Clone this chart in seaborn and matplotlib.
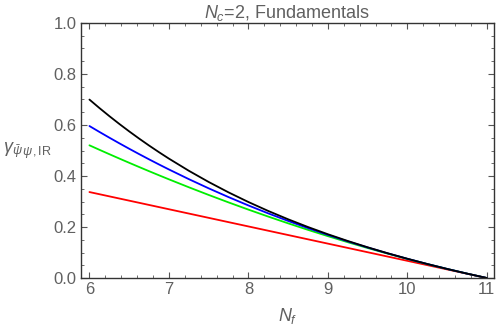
import numpy as np
import pandas as pd
import seaborn as sns
import matplotlib
matplotlib.use("Agg")
import matplotlib.pyplot as plt
from matplotlib.ticker import MultipleLocator

# N_f values
nf = [6.0, 6.125, 6.25, 6.375, 6.5, 6.625, 6.75, 6.875, 7.0, 7.25, 7.5, 7.75,
      8.0, 8.25, 8.5, 8.75, 9.0, 9.25, 9.5, 9.75, 10.0, 10.25, 10.5, 10.75, 11.0]

# series values
red = [0.33708, 0.32865, 0.32023, 0.31180, 0.30337, 0.29495, 0.28652, 0.27809,
       0.26966, 0.25281, 0.23596, 0.21910,
       0.20225, 0.18539, 0.16854, 0.15169, 0.13483, 0.11798, 0.10112, 0.08427,
       0.06742, 0.05056, 0.03371, 0.01685, 0.0]
green = [0.52035, 0.50287, 0.48563, 0.46861, 0.45182, 0.43527, 0.41893, 0.40283,
         0.38695, 0.35590, 0.32576, 0.29653,
         0.26823, 0.24083, 0.21436, 0.18880, 0.16415, 0.14043, 0.11761, 0.09572,
         0.07475, 0.05468, 0.03554, 0.01731, 0.0]
blue = [0.59593, 0.57292, 0.55043, 0.52843, 0.50692, 0.48590, 0.46534, 0.44527,
        0.42565, 0.38778, 0.35168, 0.31729,
        0.28455, 0.25340, 0.22381, 0.19569, 0.16899, 0.14367, 0.11965, 0.09690,
        0.07535, 0.05494, 0.03562, 0.01732, 0.0]
black = [0.69968, 0.66668, 0.63493, 0.60438, 0.57499, 0.54672, 0.51950, 0.49333,
         0.46815, 0.42061, 0.37659, 0.33581,
         0.29800, 0.26289, 0.23029, 0.19994, 0.17165, 0.14523, 0.12049, 0.09731,
         0.07552, 0.05499, 0.03563, 0.01732, 0.0]

series_names = ["red", "green", "blue", "black"]
colors = {"red": "#ff0000", "green": "#00ee00", "blue": "#0000ff", "black": "#000000"}

title = r"$N_c$=2, Fundamentals"
xlabel = r"$N_f$"
ylabel = r"$\gamma_{\bar{\psi}\,\psi,\mathrm{IR}}$"

rows = []
for name, vals in zip(series_names, [red, green, blue, black]):
    for x, y in zip(nf, vals):
        rows.append({"Nf": x, "gamma": y, "series": name})
df = pd.DataFrame(rows)

sns.set_style("ticks")
plt.rcParams['font.family'] = ['Liberation Sans', 'DejaVu Sans']
plt.rcParams['mathtext.fontset'] = 'custom'
plt.rcParams['mathtext.rm'] = 'Liberation Sans'
plt.rcParams['mathtext.it'] = 'Liberation Sans:italic'
plt.rcParams['mathtext.bf'] = 'Liberation Sans:bold'

grey = "#606060"
fig = plt.figure(figsize=(4.96, 3.27), dpi=100)
ax = fig.add_axes([0.1627, 0.1498, 0.996 - 0.1627, 0.9297 - 0.1498])

sns.lineplot(data=df, x="Nf", y="gamma", hue="series", palette=colors,
             hue_order=series_names, legend=False, ax=ax, linewidth=1.3)

ax.set_xlim(5.89, 11.09)
ax.set_ylim(0.0, 1.0)
ax.xaxis.set_major_locator(MultipleLocator(1))
ax.xaxis.set_minor_locator(MultipleLocator(0.2))
ax.yaxis.set_major_locator(MultipleLocator(0.2))
ax.yaxis.set_minor_locator(MultipleLocator(0.05))
ax.set_yticks([0.0, 0.2, 0.4, 0.6, 0.8, 1.0])
ax.set_yticklabels(["0.0", "0.2", "0.4", "0.6", "0.8", "1.0"])
ax.set_xticks([6, 7, 8, 9, 10, 11])
ax.set_xticklabels(["6", "7", "8", "9", "10", "11"])

for s in ax.spines.values():
    s.set_visible(True)
    s.set_color("#333333")
    s.set_linewidth(1.0)

ax.tick_params(which="both", direction="in", top=True, right=True,
               color="#555555", labelcolor=grey, labelsize=12)
ax.tick_params(which="major", length=4, width=0.8, pad=3)
ax.tick_params(which="minor", length=2, width=0.6)

ax.set_title(title, color=grey, fontsize=13, pad=3)
ax.set_xlabel(xlabel, color=grey, fontsize=13, labelpad=6)
ax.set_ylabel(ylabel, color=grey, fontsize=13, rotation=0, labelpad=2)
ax.yaxis.set_label_coords(-0.13, 0.46)

fig.savefig("out.png", dpi=100)
